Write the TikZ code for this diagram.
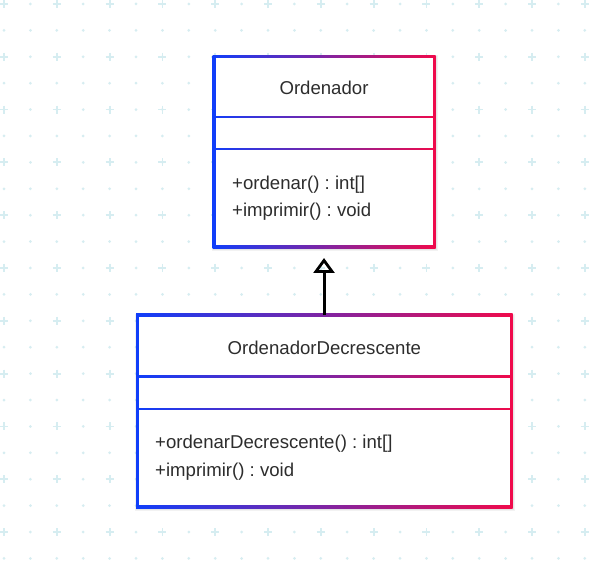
\documentclass[tikz,border=0pt]{standalone}
\usepackage{fontspec}
\setmainfont{Liberation Sans}
\frenchspacing
\usetikzlibrary{arrows.meta}
\definecolor{gridc}{RGB}{214,237,241}
\definecolor{bleft}{RGB}{15,62,250}
\definecolor{bright}{RGB}{240,10,75}
\definecolor{txt}{RGB}{45,45,45}
\tikzset{
  classbox/.style={rectangle, inner sep=0pt, outer sep=0pt},
  gradborder/.style={left color=bleft, right color=bright},
  compart/.style={fill=white},
  shadowbox/.style={fill=black, opacity=0.05},
  titletext/.style={anchor=base, inner sep=0pt, text=txt, font=\fontsize{18.6}{22}\selectfont},
  membertext/.style={anchor=base west, inner sep=0pt, text=txt, font=\fontsize{18.6}{22}\selectfont},
  genarrow/.style={draw=black, line width=3pt, -{Triangle[open, length=15pt, width=21pt, line width=2.8pt]}, shorten >=11pt},
  plusmark/.style={draw=gridc, line width=1.8pt},
  dotmark/.style={fill=gridc}
}
\begin{document}
\begin{tikzpicture}[x=1pt,y=-1pt]
\useasboundingbox (0,0) rectangle (602,577);
\fill[white] (0,0) rectangle (602,577);
% grid
\foreach \i in {0,...,22}{
  \foreach \j in {0,...,21}{
    \fill[dotmark] ({4+26.4*\i},{4+26.4*\j}) circle (1.5);
  }
}
\foreach \i in {0,2,...,22}{
  \foreach \j in {0,2,...,20}{
    \draw[plusmark] ({4+26.4*\i-4},{4+26.4*\j}) -- ({4+26.4*\i+4},{4+26.4*\j});
    \draw[plusmark] ({4+26.4*\i},{4+26.4*\j-4}) -- ({4+26.4*\i},{4+26.4*\j+4});
  }
}
% class nodes (geometry)
\node[classbox, minimum width=220pt, minimum height=190pt] (A) at (324,152) {};
\node[classbox, minimum width=373.5pt, minimum height=191.5pt] (B) at (324,410.75) {};
% box A
\fill[shadowbox] (211.5,55.5) rectangle (437.5,251);
\fill[shadowbox] (212.5,56.5) rectangle (436.5,250);
\shade[gradborder] (212.5,55.5) rectangle (435.5,248.5);
\fill[compart] (215.5,58.5) rectangle (432.5,115.8);
\fill[compart] (215.5,118.2) rectangle (432.5,147.8);
\fill[compart] (215.5,150.2) rectangle (432.5,245.5);
\node[titletext] (At) at (324,95) {Ordenador};
\node[membertext] (Am1) at (232,190) {+ordenar() : int[]};
\node[membertext] (Am2) at (232,217) {+imprimir() : void};
% box B
\fill[shadowbox] (135,313.5) rectangle (514.5,510.5);
\fill[shadowbox] (136,314.5) rectangle (513.5,509.5);
\shade[gradborder] (136,313.5) rectangle (512.5,508);
\fill[compart] (139,316.5) rectangle (509.5,375.3);
\fill[compart] (139,377.7) rectangle (509.5,407.8);
\fill[compart] (139,410.2) rectangle (509.5,505);
\node[titletext] (Bt) at (324.4,354) {OrdenadorDecrescente};
\node[membertext] (Bm1) at (155,448.5) {+ordenarDecrescente() : int[]};
\node[membertext] (Bm2) at (155,476) {+imprimir() : void};
% inheritance arrow
\draw[genarrow] (B.north) -- (A.south);
\end{tikzpicture}
\end{document}
